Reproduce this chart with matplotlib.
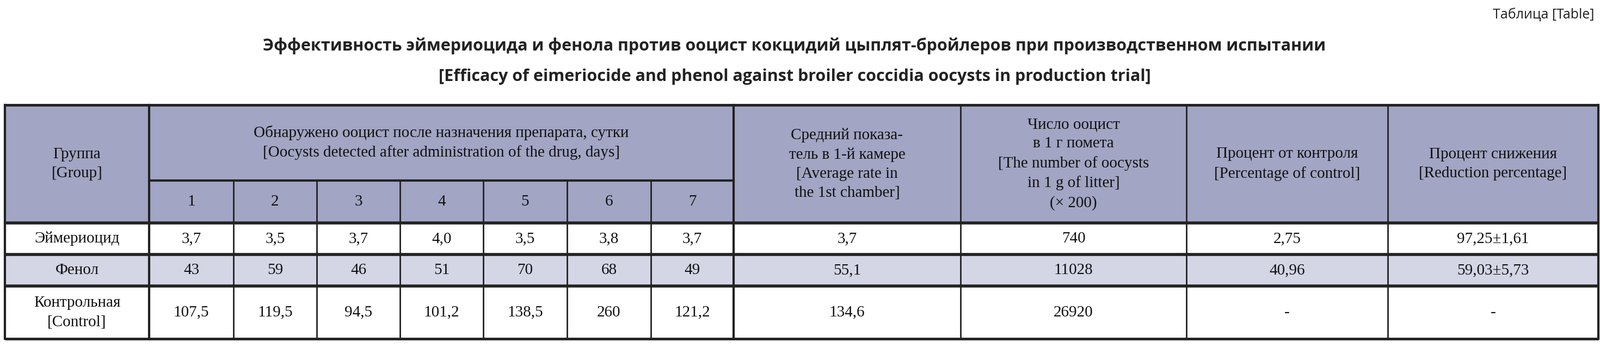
import matplotlib
matplotlib.use("Agg")
import matplotlib.pyplot as plt
from matplotlib.patches import Rectangle

groups = ["Эймериоцид", "Фенол", "Контрольная\n[Control]"]
days = ["1", "2", "3", "4", "5", "6", "7"]
day_values = [
    ["3,7", "3,5", "3,7", "4,0", "3,5", "3,8", "3,7"],
    ["43", "59", "46", "51", "70", "68", "49"],
    ["107,5", "119,5", "94,5", "101,2", "138,5", "260", "121,2"],
]
avg_rate = ["3,7", "55,1", "134,6"]
oocysts_per_g = ["740", "11028", "26920"]
pct_control = ["2,75", "40,96", "-"]
pct_reduction = ["97,25±1,61", "59,03±5,73", "-"]

title_ru = "Эффективность эймериоцида и фенола против ооцист кокцидий цыплят-бройлеров при производственном испытании"
title_en = "[Efficacy of eimeriocide and phenol against broiler coccidia oocysts in production trial]"
corner = "Таблица [Table]"
head_group = "Группа\n[Group]"
head_days = "Обнаружено ооцист после назначения препарата, сутки\n[Oocysts detected after administration of the drug, days]"
head_other = [
    "Средний показа-\nтель в 1-й камере\n[Average rate in\nthe 1st chamber]",
    "Число ооцист\nв 1 г помета\n[The number of oocysts\nin 1 g of litter]\n(× 200)",
    "Процент от контроля\n[Percentage of control]",
    "Процент снижения\n[Reduction percentage]",
]

W, H = 2940, 640
fig = plt.figure(figsize=(W / 100, H / 100), dpi=100)
ax = fig.add_axes([0, 0, 1, 1])
ax.set_xlim(0, W)
ax.set_ylim(H, 0)
ax.axis("off")

xs = [9, 274, 429, 582, 735, 888, 1042, 1196, 1348, 1765, 2180, 2550, 2937]
y_top, y_split, y_head, y_r1, y_r2, y_bot = 193, 332, 410, 468, 526, 623
row_edges = [y_head, y_r1, y_r2, y_bot]
HEAD = "#a2a5c3"
ALT = "#d4d6e5"
LINE = "#222222"
serif = "Liberation Serif"
fs = 21

ax.add_patch(Rectangle((xs[0], y_top), xs[-1] - xs[0], y_head - y_top, color=HEAD, lw=0))
ax.add_patch(Rectangle((xs[0], y_r1), xs[-1] - xs[0], y_r2 - y_r1, color=ALT, lw=0))

# horizontal lines
for y, lw in [(y_top, 3.5), (y_head, 4), (y_r1, 4), (y_r2, 4), (y_bot, 3.5)]:
    ax.plot([xs[0], xs[-1]], [y, y], color=LINE, lw=lw, solid_capstyle="butt")
ax.plot([xs[1], xs[8]], [y_split, y_split], color=LINE, lw=3)
# vertical lines
for i, x in enumerate(xs):
    lw = 3 if i in (0, 1, 8, len(xs) - 1) else 2
    y0 = y_split if 2 <= i <= 7 else y_top
    ax.plot([x, x], [y0, y_head], color=LINE, lw=lw)
    ax.plot([x, x], [y_head, y_bot], color=LINE, lw=lw)

def cx(i):
    return (xs[i] + xs[i + 1]) / 2

kw = dict(ha="center", va="center", family=serif, fontsize=fs, color="#111111", linespacing=1.45)
ax.text(cx(0), (y_top + y_head) / 2, head_group, **kw)
ax.text((xs[1] + xs[8]) / 2, (y_top + y_split) / 2, head_days, **kw)
for j, d in enumerate(days):
    ax.text(cx(1 + j), (y_split + y_head) / 2, d, **kw)
for j, t in enumerate(head_other):
    ax.text(cx(8 + j), (y_top + y_head) / 2, t, **kw)

for r in range(3):
    yc = (row_edges[r] + row_edges[r + 1]) / 2
    ax.text(cx(0), yc, groups[r], **kw)
    for j in range(7):
        ax.text(cx(1 + j), yc, day_values[r][j], **kw)
    ax.text(cx(8), yc, avg_rate[r], **kw)
    ax.text(cx(9), yc, oocysts_per_g[r], **kw)
    ax.text(cx(10), yc, pct_control[r], **kw)
    ax.text(cx(11), yc, pct_reduction[r], **kw)

ax.text(2930, 28, corner, ha="right", va="center", family="Open Sans", fontsize=18, color="#222222")
ax.text(W / 2 - 10, 84, title_ru, ha="center", va="center", family="Open Sans", fontweight="bold", fontsize=22, color="#222222")
ax.text(W / 2 - 10, 141, title_en, ha="center", va="center", family="Open Sans", fontweight="bold", fontsize=22, color="#222222")

fig.savefig("out.png", dpi=100, facecolor="white")
